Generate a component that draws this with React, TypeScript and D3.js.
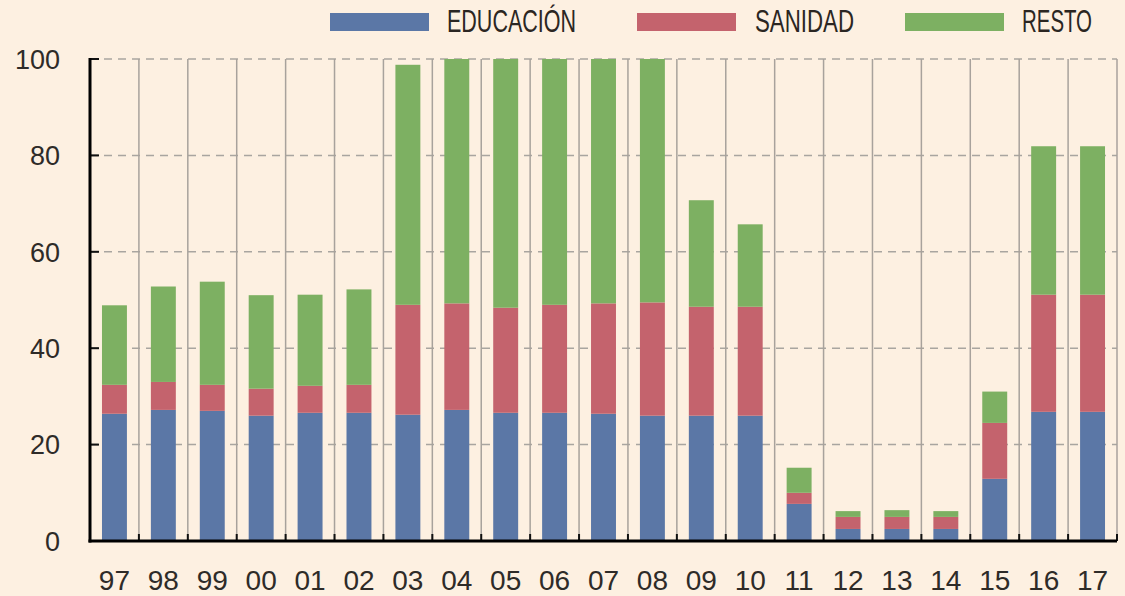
import * as d3 from "d3";
import { useRef, useEffect } from "react";

const years = ["97", "98", "99", "00", "01", "02", "03", "04", "05", "06", "07", "08", "09", "10", "11", "12", "13", "14", "15", "16", "17"];
const educacion = [26.4, 27.2, 27.0, 26.0, 26.6, 26.6, 26.2, 27.2, 26.6, 26.6, 26.4, 26.0, 26.0, 26.0, 7.7, 2.5, 2.5, 2.5, 12.9, 26.8, 26.8];
const sanidad = [6.0, 5.8, 5.4, 5.6, 5.6, 5.8, 22.8, 22.1, 21.8, 22.4, 22.9, 23.5, 22.6, 22.6, 2.3, 2.5, 2.5, 2.5, 11.6, 24.3, 24.3];
const resto = [16.5, 19.8, 21.4, 19.4, 18.9, 19.8, 49.8, 50.7, 51.6, 51.0, 50.7, 50.5, 22.1, 17.1, 5.2, 1.2, 1.4, 1.2, 6.5, 30.8, 30.8];
const series = ["EDUCACIÓN", "SANIDAD", "RESTO"];
const colors = ["#5b77a6", "#c4636d", "#7db062"];
const yTicks = [0, 20, 40, 60, 80, 100];

export default function App() {
  const svgRef = useRef(null);

  useEffect(() => {
    const width = 1125;
    const height = 596;
    const left = 90;
    const right = 1117;
    const top = 59;
    const bottom = 541;

    const svg = d3.select(svgRef.current).attr("width", width).attr("height", height);
    svg.selectAll("*").remove();

    svg.append("rect").attr("width", width).attr("height", height).attr("fill", "#fdf0e1");

    const x = d3.scaleBand().domain(years).range([left, right]).paddingInner(0.49).paddingOuter(0.245);
    const y = d3.scaleLinear().domain([0, 100]).range([bottom, top]);
    const step = x.step();

    // dashed horizontal grid
    svg.append("g")
      .selectAll("line")
      .data(yTicks.filter((t) => t > 0))
      .enter()
      .append("line")
      .attr("x1", left)
      .attr("x2", right)
      .attr("y1", (d) => y(d))
      .attr("y2", (d) => y(d))
      .attr("stroke", "#a9a5a0")
      .attr("stroke-width", 1.5)
      .attr("stroke-dasharray", "8,6");

    // vertical separators between years
    const seps = d3.range(1, years.length + 1).map((i) => left + i * step);
    svg.append("g")
      .selectAll("line")
      .data(seps)
      .enter()
      .append("line")
      .attr("x1", (d) => d)
      .attr("x2", (d) => d)
      .attr("y1", top)
      .attr("y2", bottom)
      .attr("stroke", "#a8a29c")
      .attr("stroke-width", 1.5);

    const table = years.map((yr, i) => ({ year: yr, e: educacion[i], s: sanidad[i], r: resto[i] }));
    const stacked = d3.stack<any>().keys(["e", "s", "r"])(table);

    svg.append("g")
      .selectAll("g")
      .data(stacked)
      .enter()
      .append("g")
      .attr("fill", (_, i) => colors[i])
      .selectAll("rect")
      .data((d) => d)
      .enter()
      .append("rect")
      .attr("x", (d: any) => x(d.data.year)!)
      .attr("width", x.bandwidth())
      .attr("y", (d) => y(d[1]))
      .attr("height", (d) => y(d[0]) - y(d[1]));

    // x ticks (inward)
    svg.append("g")
      .selectAll("line")
      .data(seps)
      .enter()
      .append("line")
      .attr("x1", (d) => d)
      .attr("x2", (d) => d)
      .attr("y1", bottom - 7)
      .attr("y2", bottom)
      .attr("stroke", "#111")
      .attr("stroke-width", 2);

    // y ticks (inward)
    svg.append("g")
      .selectAll("line")
      .data(yTicks)
      .enter()
      .append("line")
      .attr("x1", left)
      .attr("x2", left + 9)
      .attr("y1", (d) => y(d))
      .attr("y2", (d) => y(d))
      .attr("stroke", "#111")
      .attr("stroke-width", 2);

    // axes
    svg.append("line").attr("x1", left).attr("x2", left).attr("y1", top - 1).attr("y2", bottom + 1.5)
      .attr("stroke", "#000").attr("stroke-width", 3);
    svg.append("line").attr("x1", left - 1.5).attr("x2", right).attr("y1", bottom).attr("y2", bottom)
      .attr("stroke", "#000").attr("stroke-width", 3);

    const font = "'Liberation Sans', Arial, sans-serif";

    svg.append("g")
      .selectAll("text")
      .data(yTicks)
      .enter()
      .append("text")
      .attr("x", 60)
      .attr("y", (d) => y(d))
      .attr("dy", "0.36em")
      .attr("text-anchor", "end")
      .attr("font-family", font)
      .attr("font-size", 27)
      .attr("fill", "#2e2b28")
      .text((d) => d);

    svg.append("g")
      .selectAll("text")
      .data(years)
      .enter()
      .append("text")
      .attr("x", (d) => x(d)! + x.bandwidth() / 2)
      .attr("y", 590)
      .attr("text-anchor", "middle")
      .attr("font-family", font)
      .attr("font-size", 28)
      .attr("fill", "#2e2b28")
      .text((d) => d);

    // legend
    const legX = [330, 637, 905];
    const txtX = [447, 755, 1022];
    const legW = [129, 99, 70];
    const leg = svg.append("g");
    series.forEach((s, i) => {
      leg.append("rect").attr("x", legX[i]).attr("y", 13).attr("width", 99).attr("height", 18).attr("fill", colors[i]);
      leg.append("text")
        .attr("x", txtX[i])
        .attr("y", 32)
        .attr("font-family", font)
        .attr("font-size", 32)
        .attr("fill", "#2b2622")
        .attr("textLength", legW[i])
        .attr("lengthAdjust", "spacingAndGlyphs")
        .text(s);
    });
  }, []);

  return (
    <svg ref={svgRef} style={{ position: "absolute", left: 0, top: 0 }} />
  );
}
